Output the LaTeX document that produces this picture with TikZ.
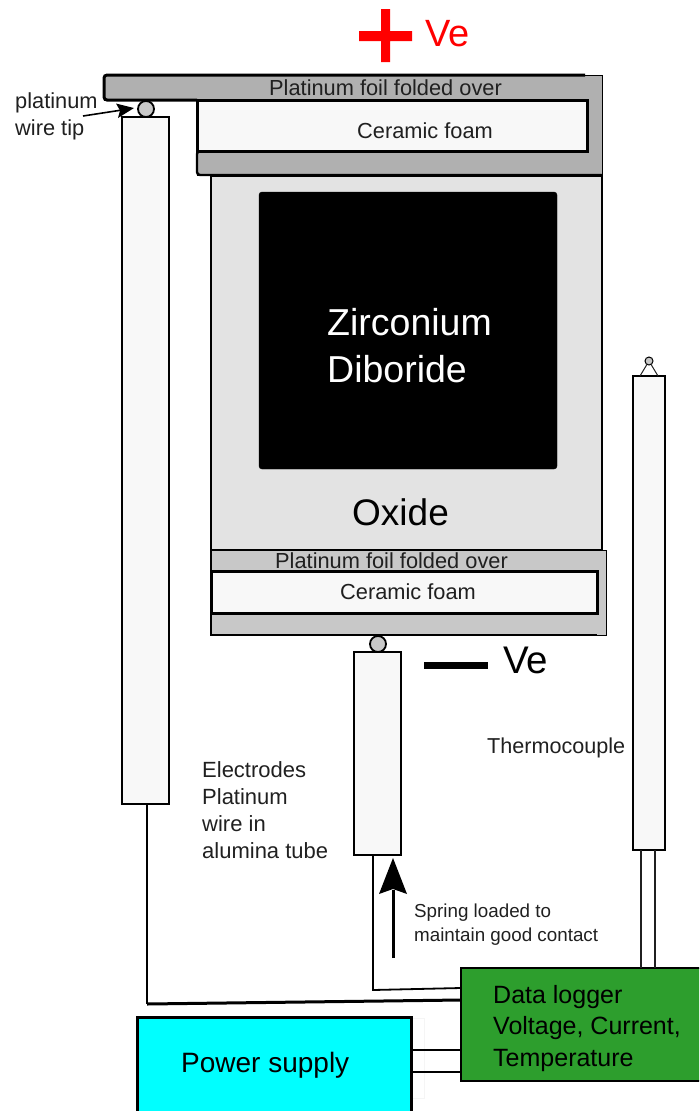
\documentclass[tikz,border=0pt]{standalone}
\usepackage{fontspec}
\setmainfont{Liberation Sans}
\definecolor{foildark}{HTML}{B0B0B0}
\definecolor{foillight}{HTML}{C8C8C8}
\definecolor{oxidegray}{HTML}{E3E3E3}
\definecolor{foamwhite}{HTML}{F8F8F8}
\definecolor{loggergreen}{HTML}{2D9E2D}
\definecolor{supplycyan}{HTML}{00FFFF}
\definecolor{inkgray}{HTML}{202020}
\tikzset{
  block/.style={draw=black,rectangle,inner sep=0pt,outer sep=0pt},
  tube/.style={block,fill=foamwhite,line width=1.8pt},
  foam/.style={block,fill=foamwhite,line width=3pt},
  tip/.style={draw=black,circle,fill=foillight,inner sep=0pt,outer sep=0pt,line width=1.8pt},
  wire/.style={draw=black,line width=1.8pt},
  label/.style={inner sep=0pt,text=inkgray,anchor=base west,align=left},
}
\begin{document}
\begin{tikzpicture}[x=1pt,y=-1pt]
\clip (0,0) rectangle (699,1111);
% positive side
\fill[red] (381,9) rectangle (390,62) (359,31) rectangle (412,41);
\node (plusve) [label,text=red,font=\fontsize{38}{38}\selectfont] at (425,46) {Ve};
% oxide and sample
\node (oxide) [block,fill=oxidegray,line width=1.6pt,minimum width=391pt,minimum height=374pt] at (406.5,363) {};
\node (sample) [block,fill=black,rounded corners=3pt,minimum width=298pt,minimum height=277pt] at (408,330.5) {};
\node (zrlabel) [label,text=white,font=\fontsize{37.5}{47}\selectfont] at (327,382) {Zirconium\\Diboride};
\node (oxidelabel) [label,text=black,font=\fontsize{37}{37}\selectfont] at (352,525) {Oxide};
% top foil
\fill[foildark,draw=black,line width=1pt] (104,75) -- (602,75) -- (602,175) -- (197,175) -- (197,151) -- (587,151) -- (587,100) -- (104,100) -- cycle;
\draw[line width=3pt,rounded corners=3pt] (585,75) -- (104,75) -- (104,100) -- (197,100);
\draw[line width=2.4pt,rounded corners=3pt] (587,151) -- (197,151) -- (197,175) -- (602,175);
\node (topfoam) [foam,minimum width=390pt,minimum height=51pt] at (392,125.5) {};
\node (topfoil) [label,font=\fontsize{21.8}{22}\selectfont] at (269,95) {Platinum foil folded over};
\node (topfoamlabel) [label,font=\fontsize{21.8}{22}\selectfont] at (357,138) {Ceramic foam};
% bottom foil
\fill[foillight,draw=black,line width=1pt] (211,550) rectangle (606,635);
\draw[line width=2.4pt] (211,550) -- (602,550) (211,550) -- (211,635) -- (597,635);
\node (botfoam) [foam,minimum width=386pt,minimum height=42pt] at (404.5,592) {};
\node (botfoil) [label,font=\fontsize{21.8}{22}\selectfont] at (275,568) {Platinum foil folded over};
\node (botfoamlabel) [label,font=\fontsize{21.8}{22}\selectfont] at (340,599) {Ceramic foam};
% tubes
\node (lefttube) [tube,minimum width=47pt,minimum height=687pt] at (145.5,460.5) {};
\node (lefttip) [tip,minimum size=16pt] at (146,109) {};
\node (midtube) [tube,minimum width=47pt,minimum height=203pt] at (377.5,753.5) {};
\node (midtip) [tip,minimum size=16pt] at (378,644) {};
\node (thermotube) [tube,minimum width=32pt,minimum height=474pt] at (649,613) {};
\node (thermotip) [tip,line width=1pt,minimum size=8pt] at (649,361) {};
\draw[line width=1pt,draw=inkgray] (640,376) -- (thermotip) -- (658,376);
% negative side
\fill[black] (424,662) rectangle (488,669);
\node (minusve) [label,text=black,font=\fontsize{38.5}{38}\selectfont] at (503,673) {Ve};
% instruments
\node (logger) [block,fill=loggergreen,line width=1.4pt,minimum width=250pt,minimum height=113pt] at (586,1024.5) {};
\node (loggerlabel) [label,text=black,font=\fontsize{25}{31.5}\selectfont] at (493,1066) {Data logger\\Voltage, Current,\\Temperature};
\draw[draw=black!4,line width=1pt] (411,1018) -- (424,1018) -- (424,1098) -- (411,1098);
\node (power) [block,fill=supplycyan,line width=3pt,minimum width=274pt,minimum height=108pt] at (274,1071) {};
\node (powerlabel) [label,text=black,font=\fontsize{28}{28}\selectfont] at (181,1072) {Power supply};
% wires
\coordinate (leftcorner) at (147,1004);
\coordinate (leftend) at (logger.west |- 0,1000);
\coordinate (midcorner) at (373,990);
\coordinate (midend) at (logger.west |- 0,988);
\coordinate (midtop) at (373,855);
\draw[wire] (147,804) -- (leftcorner);
\draw[wire,line width=3pt] (leftcorner) -- (leftend);
\draw[wire] (midtop) -- (midcorner) -- (midend);
\draw[wire,draw=inkgray] (641,850) -- (641,968);
\draw[wire,draw=inkgray] (655,850) -- (655,968);
\draw[wire] (power.east |- 0,1050) -- (logger.west |- 0,1050);
\draw[wire] (power.east |- 0,1072) -- (logger.west |- 0,1072);
% arrows
\coordinate (springfoot) at (393,958);
\coordinate (springhead) at (393,858);
\draw[line width=3pt] (springfoot) -- (393,890);
\fill[black] (springhead) -- (407,894) -- (393,889) -- (379,894) -- cycle;
\coordinate (tipfoot) at (83,116);
\draw[line width=1.6pt] (tipfoot) -- (122,110);
\fill[black] (134,108) -- (116,103.5) -- (120,110.5) -- (118,118) -- cycle;
% labels
\node (tiplabel) [label,font=\fontsize{21.8}{26.5}\selectfont] at (15,135) {platinum\\wire tip};
\node (electrodes) [label,font=\fontsize{22}{26.7}\selectfont] at (202,858) {Electrodes\\Platinum\\wire in\\alumina tube};
\node (thermolabel) [label,font=\fontsize{21.6}{22}\selectfont] at (487,753) {Thermocouple};
\node (springlabel) [label,font=\fontsize{18.8}{23.5}\selectfont] at (414,941) {Spring loaded to\\maintain good contact};
\end{tikzpicture}
\end{document}
